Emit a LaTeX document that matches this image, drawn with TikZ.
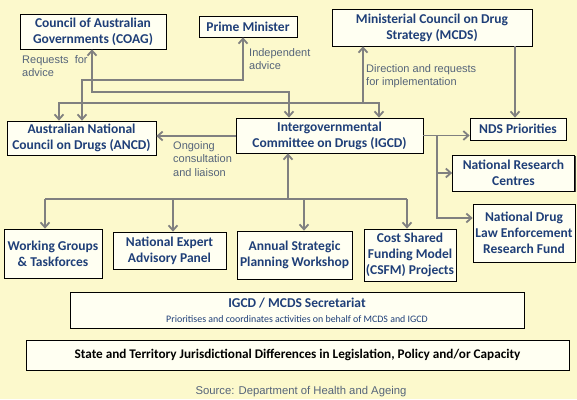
\documentclass[tikz,border=0pt]{standalone}
\usepackage{fontspec}
\setmainfont{Carlito}
\newfontfamily\arialfont{Liberation Sans}
\usetikzlibrary{arrows.meta,shadows}
\definecolor{bgc}{HTML}{FCF9CC}
\definecolor{boxfill}{HTML}{FFFFF2}
\definecolor{navy}{HTML}{1F3F78}
\definecolor{conngray}{HTML}{808080}
\definecolor{labgray}{HTML}{55647A}
\tikzset{
  org/.style={draw=black, line width=0.7pt, fill=boxfill, align=center,
    inner sep=0pt, text=navy, font=\bfseries\fontsize{13.5}{16}\selectfont,
    drop shadow={shadow xshift=1.2pt, shadow yshift=-1.2pt, fill=black!75, opacity=1}},
  conn/.style={draw=conngray, line width=1.8pt,
    >={Straight Barb[length=5pt,width=9pt]}},
  lab/.style={text=labgray, font=\arialfont\fontsize{11}{13.5}\selectfont,
    align=left, anchor=north west, inner sep=0pt},
}
\begin{document}
\begin{tikzpicture}[x=1pt,y=-1pt]
\fill[bgc] (0,0) rectangle (577,399);
\useasboundingbox (0,0) rectangle (577,399);

% boxes
\node[org, minimum width=146pt, minimum height=35pt] (coag) at (93,31.5) {Council of Australian\\Governments (COAG)};
\node[org, minimum width=98pt, minimum height=21pt] (pm) at (248,26.5) {Prime Minister};
\node[org, minimum width=200pt, minimum height=37pt] (mcds) at (432,27.5) {Ministerial Council on Drug\\Strategy (MCDS)};
\node[org, minimum width=149pt, minimum height=34pt] (ancd) at (81.5,138) {Australian National\\Council on Drugs (ANCD)};
\node[org, minimum width=187pt, minimum height=35pt] (igcd) at (329.5,135.5) {Intergovernmental\\Committee on Drugs (IGCD)};
\node[org, minimum width=96pt, minimum height=22pt] (nds) at (518,129) {NDS Priorities};
\node[org, minimum width=122pt, minimum height=36pt] (nrc) at (513.5,173) {National Research\\Centres};
\node[org, minimum width=102pt, minimum height=58pt] (ndl) at (524,233) {National Drug\\Law Enforcement\\Research Fund};
\node[org, minimum width=98pt, minimum height=49pt] (wg) at (53,253.5) {Working Groups\\\& Taskforces};
\node[org, minimum width=113pt, minimum height=37pt] (neap) at (169.5,250.5) {National Expert\\Advisory Panel};
\node[org, minimum width=115pt, minimum height=48pt] (aspw) at (294.5,255) {Annual Strategic\\Planning Workshop};
\node[org, minimum width=92pt, minimum height=52pt] (csfm) at (410,255) {Cost Shared\\Funding Model\\(CSFM) Projects};
\node[org, minimum width=454pt, minimum height=36pt] (sec) at (297,310) {};
\node[text=navy, font=\bfseries\fontsize{13.5}{16}\selectfont, inner sep=0pt] (sect) at (297,303.5) {IGCD / MCDS Secretariat};
\node[text=navy, font=\fontsize{9.9}{11}\selectfont, inner sep=0pt] (secs) at (297,319.5) {Prioritises and coordinates activities on behalf of MCDS and IGCD};
\node[org, minimum width=543pt, minimum height=30pt, text=black, font=\bfseries\fontsize{13.2}{15}\selectfont] (state) at (297.5,355) {State and Territory Jurisdictional Differences in Legislation, Policy and/or Capacity};

% junction coordinates
\coordinate (j1) at (92,92);
\coordinate (j2) at (289,92);
\coordinate (p1) at (243,80);
\coordinate (p2) at (82,80);
\coordinate (m1) at (59,103);
\coordinate (m2) at (379,103);
\coordinate (m3) at (363,103);
\coordinate (r1) at (437,135.5);
\coordinate (r2) at (437,173);
\coordinate (r3) at (437,218);
\coordinate (b0) at (288,199);
\coordinate (b1) at (45,199);
\coordinate (b2) at (173,199);
\coordinate (b3) at (304,199);
\coordinate (b4) at (407,199);

% connectors
\draw[conn,<->] (coag.south -| j1) -- (j1) -- (j2) -- (igcd.north -| j2);
\draw[conn,<->] (pm.south -| p1) -- (p1) -- (p2) -- (ancd.north -| p2);
\draw[conn,<->] (ancd.north -| m1) -- (m1) -- (m2) -- (igcd.north -| m2);
\draw[conn,->] (m3) -- (mcds.south -| m3);
\draw[conn,->] (igcd.west |- 0,136) -- (ancd.east |- 0,136);
\draw[conn,->] (mcds.south -| 515,0) -- (nds.north -| 515,0);
\draw[conn,->] (igcd.east |- r1) -- (nds.west |- r1);
\draw[conn,->] (r1) -- (r3) -- (ndl.west |- r3);
\draw[conn,->] (r2) -- (nrc.west |- r2);
\draw[conn,->] (b0) -- (igcd.south -| b0);
\draw[conn] (b1) -- (b4);
\draw[conn,->] (b1) -- (wg.north -| b1);
\draw[conn,->] (b2) -- (neap.north -| b2);
\draw[conn,->] (b3) -- (aspw.north -| b3);
\draw[conn,->] (b4) -- (csfm.north -| b4);

% labels
\node[lab] (l1) at (22,55) {Requests\ \ for\\advice};
\node[lab] (l2) at (249,48) {Independent\\advice};
\node[lab] (l3) at (366,64) {Direction and requests\\for implementation};
\node[lab] (l4) at (173,141) {Ongoing\\consultation\\and liaison};
\node[text=labgray, font=\arialfont\fontsize{11.3}{13}\selectfont, inner sep=0pt] (src) at (301,392) {Source: Department of Health and Ageing};
\end{tikzpicture}
\end{document}
